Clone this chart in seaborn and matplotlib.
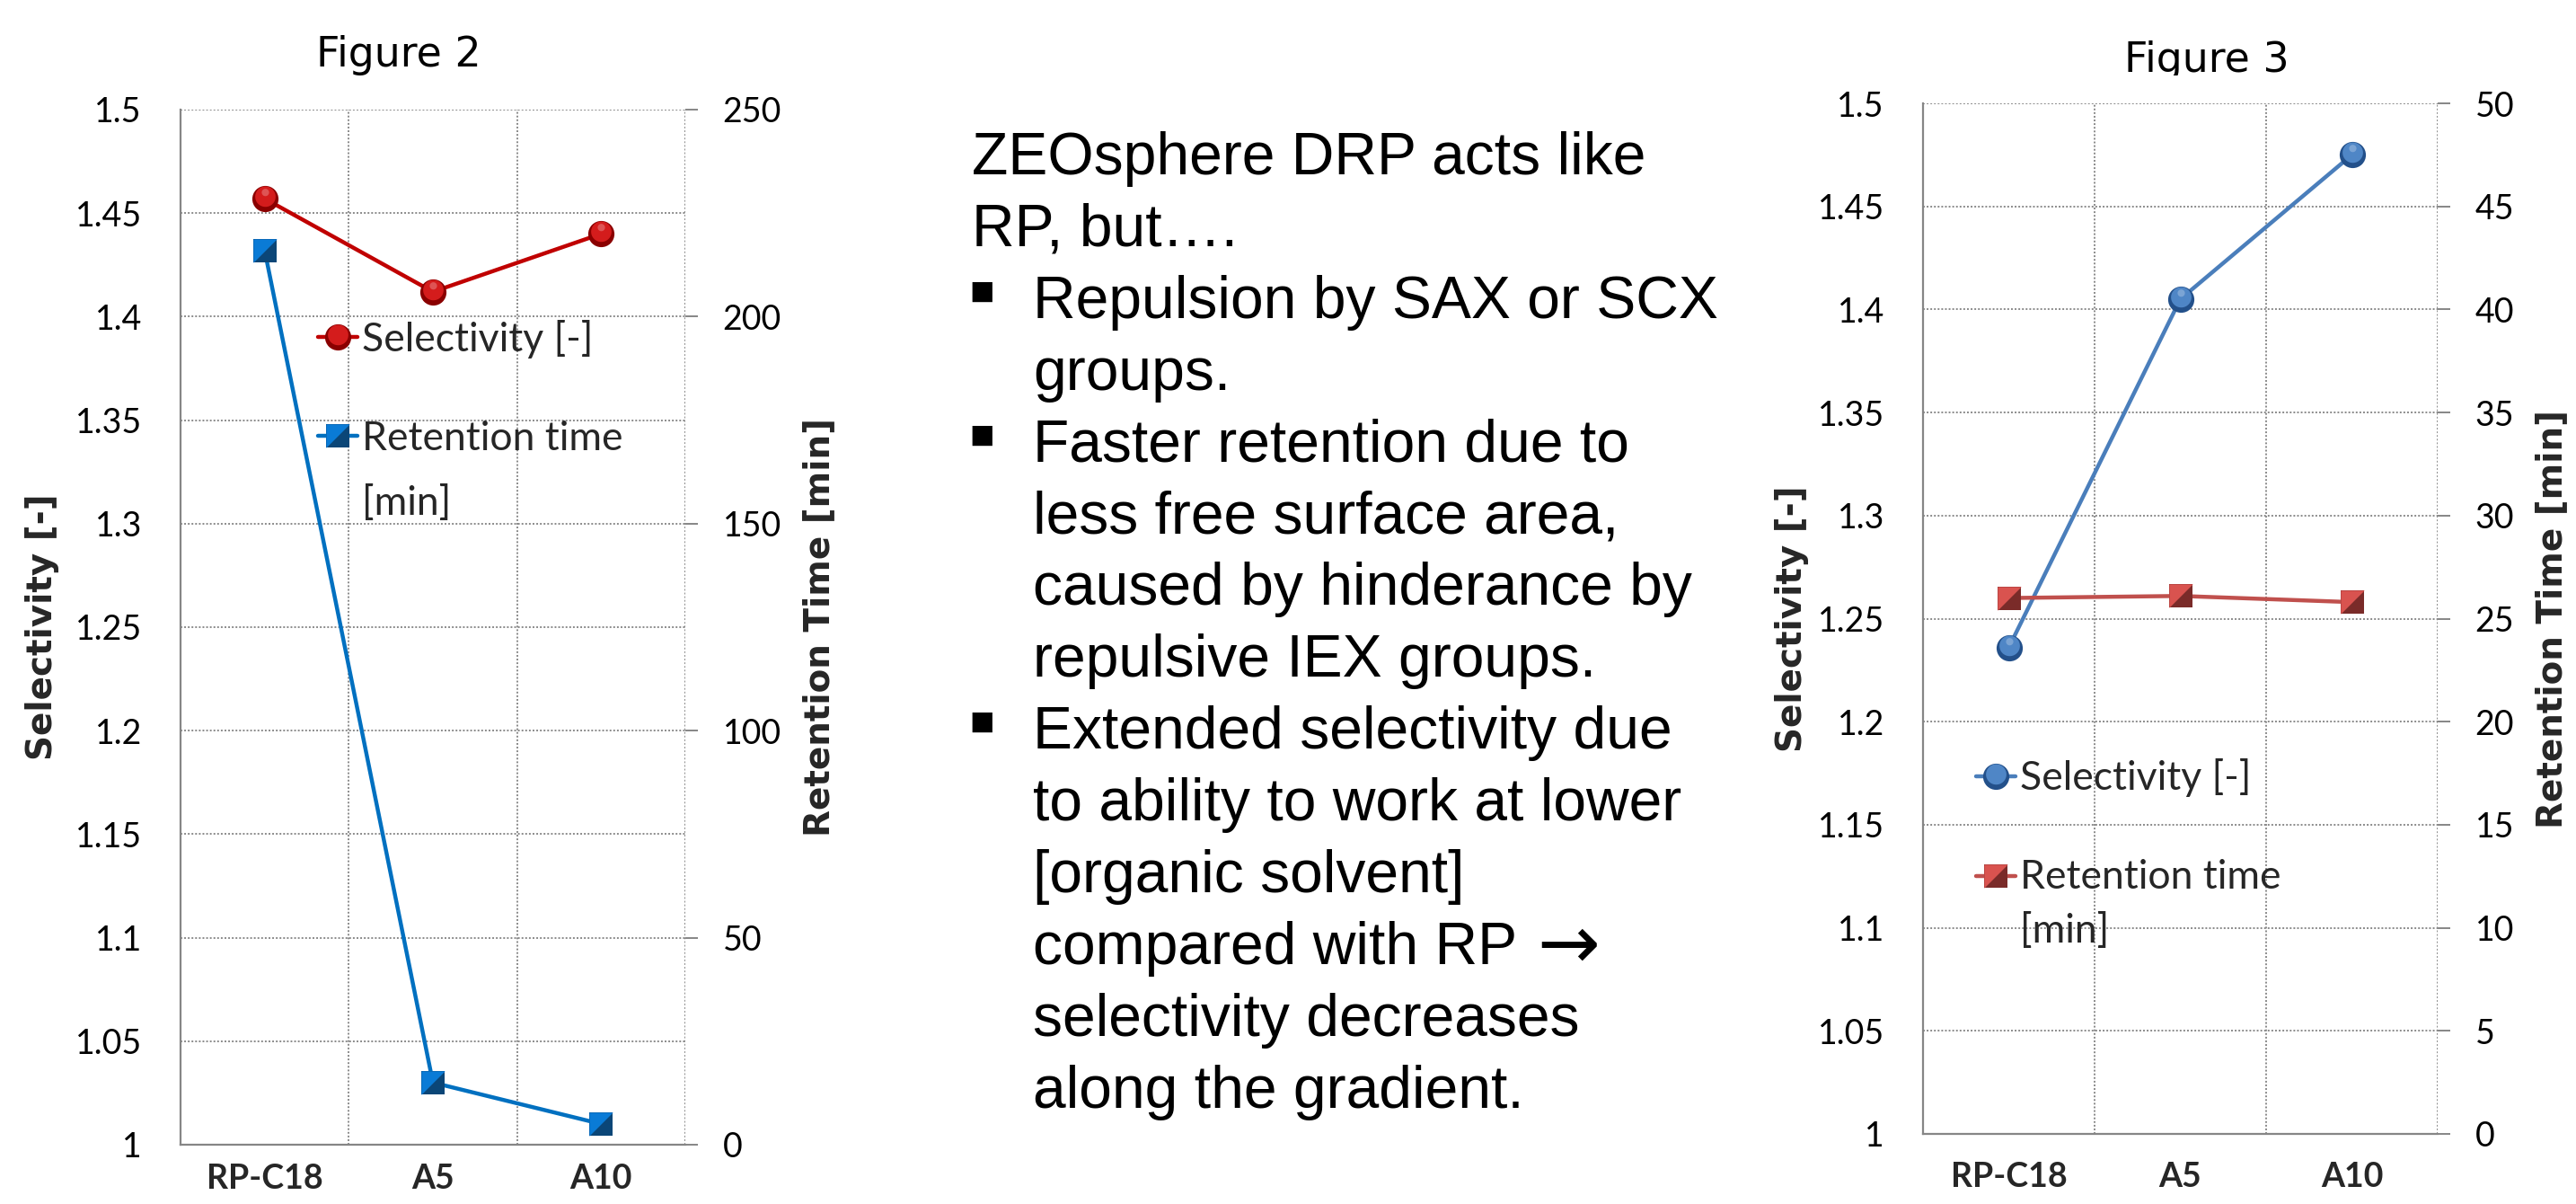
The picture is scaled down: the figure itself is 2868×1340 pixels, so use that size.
import numpy as np
import pandas as pd
import seaborn as sns
import matplotlib
matplotlib.use("Agg")
import matplotlib.pyplot as plt
from matplotlib.lines import Line2D
from matplotlib.legend_handler import HandlerTuple
from matplotlib.ticker import FixedLocator, FuncFormatter
from matplotlib.transforms import Bbox

# ---------------- data ----------------
categories = ["RP-C18", "A5", "A10"]
fig2_selectivity = [1.457, 1.412, 1.440]
fig2_retention = [216, 15, 5]
fig3_selectivity = [1.236, 1.405, 1.475]
fig3_retention = [26.0, 26.1, 25.8]
selectivity_ticks = [1.0, 1.05, 1.1, 1.15, 1.2, 1.25, 1.3, 1.35, 1.4, 1.45, 1.5]
fig2_retention_ticks = [0, 50, 100, 150, 200, 250]
fig3_retention_ticks = [0, 5, 10, 15, 20, 25, 30, 35, 40, 45, 50]
series_labels = ["Selectivity [-]", "Retention time\n[min]"]
left_ylabel = "Selectivity [-]"
right_ylabel = "Retention Time [min]"
titles = ["Figure 2", "Figure 3"]
text_lines = [
    ("", "ZEOsphere DRP acts like", ""),
    ("", "RP, but….", ""),
    ("■", "Repulsion by SAX or SCX", ""),
    ("", "groups.", ""),
    ("■", "Faster retention due to", ""),
    ("", "less free surface area,", ""),
    ("", "caused by hinderance by", ""),
    ("", "repulsive IEX groups.", ""),
    ("■", "Extended selectivity due", ""),
    ("", "to ability to work at lower", ""),
    ("", "[organic solvent]", ""),
    ("", "compared with RP", "→"),
    ("", "selectivity decreases", ""),
    ("", "along the gradient.", ""),
]

sns.set_theme(style="white")
plt.rcParams["font.family"] = ["Lato", "DejaVu Sans"]

W, H = 2868, 1340
fig = plt.figure(figsize=(W / 100, H / 100), dpi=100)

GRID = "#8a8a8a"
SPINE = "#868686"
TICKFONT = ["Lato", "DejaVu Sans"]
LEG_FS = 32
MS_CIRCLE = 21
MS_SQUARE = 19


def circle_verts(r, cy, n=60):
    t = np.linspace(0, 2 * np.pi, n)
    return list(zip(r * np.cos(t), cy + r * np.sin(t)))


TRI_UL = [(-1, 1), (1, 1), (-1, -1), (-1, 1)]


class ShiftTuple(HandlerTuple):
    """Tuple handler whose marker sits on the first line of a two-line label."""

    def __init__(self, dy, **kw):
        super().__init__(**kw)
        self.dy = dy

    def create_artists(self, legend, orig_handle, xdescent, ydescent, width, height,
                       fontsize, trans):
        return super().create_artists(legend, orig_handle, xdescent, ydescent - 2 * self.dy,
                                      width, height, fontsize, trans)


def make_handle(line, dark, light, kind, ms):
    base = Line2D([], [], color=line, lw=3.2, marker="o" if kind == "o" else "s",
                  markersize=ms, markerfacecolor=dark, markeredgewidth=0)
    over = Line2D([], [], linestyle="",
                  marker=circle_verts(0.78, 0.18) if kind == "o" else TRI_UL,
                  markersize=ms * 0.96 if kind == "o" else ms,
                  markerfacecolor=light, markeredgewidth=0)
    return (base, over)


def panel(rect, sel, ret, ret_ticks, sel_cols, ret_cols, marker_sel, marker_ret,
          leg_anchor, lbl_x, xpad, leg_linespacing, leg_dy):
    ax = fig.add_axes(rect)
    df = pd.DataFrame({"cat": categories, "sel": sel, "ret": ret})
    sel_line, sel_dark, sel_light = sel_cols
    ret_line, ret_dark, ret_light = ret_cols

    def draw(axx, ycol, line, dark, light, kind, ms):
        sns.lineplot(data=df, x="cat", y=ycol, ax=axx, sort=False, color=line,
                     lw=3.2, marker="o" if kind == "o" else "s", markersize=ms,
                     markerfacecolor=dark, markeredgewidth=0, zorder=3)
        if kind == "o":
            sns.lineplot(data=df, x="cat", y=ycol, ax=axx, sort=False,
                         linestyle="", marker=circle_verts(0.78, 0.18), markersize=ms * 0.96,
                         markerfacecolor=light, markeredgewidth=0, zorder=4)
            sns.lineplot(data=df, x="cat", y=ycol, ax=axx, sort=False,
                         linestyle="", marker=circle_verts(0.28, 0.5), markersize=ms * 0.78,
                         markerfacecolor="#ffffff", alpha=0.25, markeredgewidth=0, zorder=5)
        else:
            sns.lineplot(data=df, x="cat", y=ycol, ax=axx, sort=False,
                         linestyle="", marker=TRI_UL, markersize=ms,
                         markerfacecolor=light, markeredgewidth=0, zorder=4)

    ms_sel = MS_CIRCLE if marker_sel == "o" else MS_SQUARE
    ms_ret = MS_CIRCLE if marker_ret == "o" else MS_SQUARE
    draw(ax, "sel", sel_line, sel_dark, sel_light, marker_sel, ms_sel)
    ax.set_xlim(-0.5, 2.5)
    ax.set_ylim(1.0, 1.5)
    ax2 = ax.twinx()
    draw(ax2, "ret", ret_line, ret_dark, ret_light, marker_ret, ms_ret)
    ax2.set_ylim(ret_ticks[0], ret_ticks[-1])
    ax2.set_xlim(-0.5, 2.5)

    # axes styling
    ax.yaxis.set_major_locator(FixedLocator(selectivity_ticks))
    ax.yaxis.set_major_formatter(FuncFormatter(lambda v, p: f"{v:g}"))
    ax.xaxis.set_minor_locator(FixedLocator([0.5, 1.5, 2.5]))
    ax.grid(True, axis="y", which="major", color=GRID, lw=1.4, linestyle=(0, (1, 1.1)))
    ax.grid(True, axis="x", which="minor", color=GRID, lw=1.4, linestyle=(0, (1, 1.1)))
    ax.grid(False, axis="x", which="major")
    for s in ["top", "right"]:
        ax.spines[s].set_visible(False)
    for s in ["left", "bottom"]:
        ax.spines[s].set_color(SPINE)
        ax.spines[s].set_linewidth(1.6)
    for s in ax2.spines.values():
        s.set_visible(False)
    ax.tick_params(axis="y", length=0, pad=31, labelsize=27, labelcolor="black")
    ax.tick_params(axis="x", which="both", length=0, pad=xpad)
    for t in ax.get_xticklabels():
        t.set_fontsize(27)
        t.set_fontweight("bold")
        t.set_family(TICKFONT)
    for t in ax.get_yticklabels():
        t.set_family(TICKFONT)
    ax2.yaxis.set_major_locator(FixedLocator(ret_ticks))
    ax2.tick_params(axis="y", direction="out", length=10, width=1.4, color=SPINE,
                    pad=20, labelsize=27, labelcolor="black")
    for t in ax2.get_yticklabels():
        t.set_family(TICKFONT)
    ax.set_xlabel("")
    ax2.set_xlabel("")
    ax.set_ylabel(left_ylabel, fontsize=28, fontweight="bold", family="DejaVu Sans")
    ax2.set_ylabel(right_ylabel, fontsize=28, fontweight="bold", family="DejaVu Sans")
    ax.yaxis.label.set_va("center")
    ax2.yaxis.label.set_va("center")
    ax.yaxis.set_label_coords(lbl_x[0], 0.5)
    ax2.yaxis.set_label_coords(lbl_x[1], 0.5)

    # legend
    h_sel = make_handle(sel_line, sel_dark, sel_light, marker_sel, ms_sel)
    h_ret = make_handle(ret_line, ret_dark, ret_light, marker_ret, ms_ret)
    leg = ax2.legend([h_sel, h_ret], series_labels, loc="upper left", bbox_to_anchor=leg_anchor,
                     frameon=False, fontsize=LEG_FS, handlelength=1.0, handletextpad=0.1,
                     labelspacing=1.55, borderpad=0, borderaxespad=0,
                     handler_map={h_sel: HandlerTuple(), h_ret: ShiftTuple(leg_dy)})
    for t in leg.get_texts():
        t.set_family(TICKFONT)
        t.set_linespacing(leg_linespacing)
    return ax, ax2


# Figure 2 (left)
panel([201 / W, (H - 1274) / H, 562 / W, 1152 / H],
      fig2_selectivity, fig2_retention, fig2_retention_ticks,
      ("#C00000", "#8A0000", "#D41C1C"), ("#0070C0", "#0B4677", "#0A7BD6"),
      "o", "s", (0.272, 0.797), (-0.274, 1.265), 15, 1.95, 29)

# Figure 3 (right)
panel([2141 / W, (H - 1262) / H, 573 / W, 1147 / H],
      fig3_selectivity, fig3_retention, fig3_retention_ticks,
      ("#4A7EBB", "#23508A", "#4F86C6"), ("#C0504D", "#7A2B29", "#D9534F"),
      "o", "s", (0.103, 0.364), (-0.255, 1.222), 22, 1.55, 23)

# Titles
fig.text(444 / W, 1 - 74 / H, titles[0], ha="center", va="baseline", fontsize=33,
         family="DejaVu Sans", color="black")
t3 = fig.text(2457 / W, 1 - 80 / H, titles[1], ha="center", va="baseline", fontsize=33,
              family="DejaVu Sans", color="black")
t3.set_clip_box(Bbox([[0, H - 84], [W, H]]))
t3.set_clip_on(True)

# Middle text block
renderer = fig.canvas.get_renderer()
base0 = 194
step = 79.9
for i, (bullet, line, tail) in enumerate(text_lines):
    yb = 1 - (base0 + i * step) / H
    x = 1082 if i < 2 else 1150
    t = fig.text(x / W, yb, line, ha="left", va="baseline", fontsize=47.5,
                 family=["Liberation Sans", "DejaVu Sans"], color="black")
    if bullet:
        fig.text(1079 / W, yb + 21 / H, bullet, ha="left", va="baseline", fontsize=21,
                 family=["DejaVu Sans"], color="black")
    if tail:
        bb = t.get_window_extent(renderer=renderer)
        fig.text((bb.x1 + 22) / W, yb - 5 / H, tail, ha="left", va="baseline", fontsize=60,
                 family=["DejaVu Sans"], color="black")

fig.savefig("out.png", dpi=100, facecolor="white")
